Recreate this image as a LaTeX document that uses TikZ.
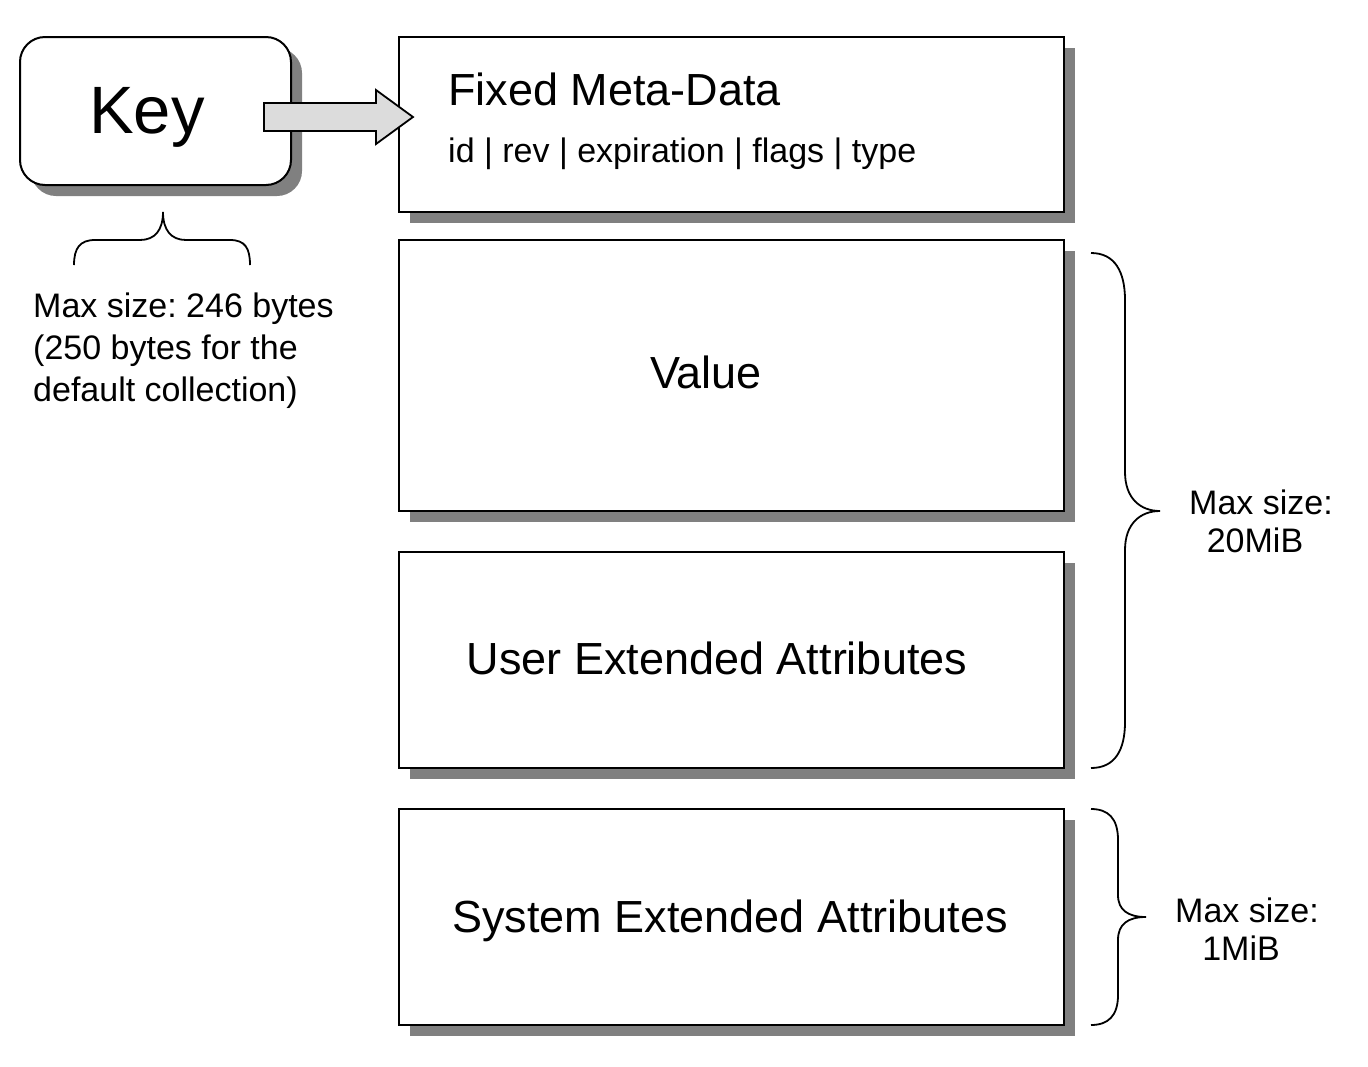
\documentclass[tikz,border=0pt]{standalone}
\usepackage{fontspec}
\setmainfont{Liberation Sans}
\usetikzlibrary{shadows,calc}
\frenchspacing
\tikzset{
  x=1pt, y=-1pt,
  boxshadow/.style={drop shadow={shadow xshift=11pt, shadow yshift=-11pt, fill=shadowgray, opacity=1}},
  fieldbox/.style={draw=black, line width=2pt, fill=white, rectangle, minimum width=665pt, inner sep=0pt, boxshadow},
  keybox/.style={draw=black, line width=2pt, fill=white, rectangle, rounded corners=25pt, minimum width=271pt, minimum height=148pt, inner sep=0pt, boxshadow},
  brace/.style={draw=black, line width=1.8pt},
  lbl/.style={inner sep=0pt, anchor=base},
}
\definecolor{shadowgray}{HTML}{808080}
\definecolor{arrowgray}{HTML}{DCDCDC}
\begin{document}
\begin{tikzpicture}
\frenchspacing
\useasboundingbox (0,0) rectangle (1368,1066);
% boxes
\node[keybox] (key) at (155.5,111) {};
\node[fieldbox, minimum height=175pt] (meta) at (731.5,124.5) {};
\node[fieldbox, minimum height=271pt] (value) at (731.5,375.5) {};
\node[fieldbox, minimum height=216pt] (user) at (731.5,660) {};
\node[fieldbox, minimum height=216pt] (sys) at (731.5,917) {};
% arrow
\coordinate (as) at (264,117);
\coordinate (ae) at (413,117);
\draw[line width=1.8pt, fill=arrowgray, line join=miter]
  ($(as)+(0,-14)$) -- ($(ae)+(-37,-14)$) -- ($(ae)+(-37,-27)$) -- (ae)
  -- ($(ae)+(-37,27)$) -- ($(ae)+(-37,14)$) -- ($(as)+(0,14)$) -- cycle;
% texts
\node[lbl] (keyt) at (147,133) {\fontsize{67}{67}\selectfont Key};
\node[lbl, anchor=base west] (metat) at (448,105) {\fontsize{45}{45}\selectfont Fixed Meta-Data};
\node[lbl, anchor=base west] (metaf) at (448,162) {\fontsize{34}{34}\selectfont id | rev | expiration | flags | type};
\node[lbl] (valuet) at (706,388) {\fontsize{45}{45}\selectfont Value};
\node[lbl] (usert) at (717,674) {\fontsize{45}{45}\selectfont User Extended Attributes};
\node[lbl] (syst) at (730,932) {\fontsize{45}{45}\selectfont System Extended Attributes};
\node[lbl, anchor=base west] (k1) at (33,317) {\fontsize{34}{34}\selectfont Max size: 246 bytes};
\node[lbl, anchor=base west] (k2) at (33,359) {\fontsize{34}{34}\selectfont (250 bytes for the};
\node[lbl, anchor=base west] (k3) at (33,401) {\fontsize{34}{34}\selectfont default collection)};
\node[lbl] (m1) at (1261,514) {\fontsize{34}{34}\selectfont Max size:};
\node[lbl] (m2) at (1255,552) {\fontsize{34}{34}\selectfont 20MiB};
\node[lbl] (s1) at (1247,922) {\fontsize{34}{34}\selectfont Max size:};
\node[lbl] (s2) at (1241,960) {\fontsize{34}{34}\selectfont 1MiB};
% braces
\draw[brace] (74,265) .. controls (74,248) and (80,240) .. (95,240) -- (140,240)
  .. controls (155,240) and (163,230) .. (163,212)
  .. controls (163,230) and (171,240) .. (186,240) -- (230,240)
  .. controls (245,240) and (250,248) .. (250,265);
\draw[brace] (1091,253) .. controls (1115,253) and (1125,272) .. (1125,300) -- (1125,472)
  .. controls (1125,498) and (1140,511) .. (1160,511)
  .. controls (1140,511) and (1125,524) .. (1125,550) -- (1125,722)
  .. controls (1125,750) and (1115,768) .. (1091,768);
\draw[brace] (1091,809) .. controls (1108,809) and (1118,818) .. (1118,840) -- (1118,895)
  .. controls (1118,910) and (1128,917) .. (1146,917)
  .. controls (1128,917) and (1118,924) .. (1118,940) -- (1118,995)
  .. controls (1118,1016) and (1108,1025) .. (1091,1025);
\end{tikzpicture}
\end{document}
